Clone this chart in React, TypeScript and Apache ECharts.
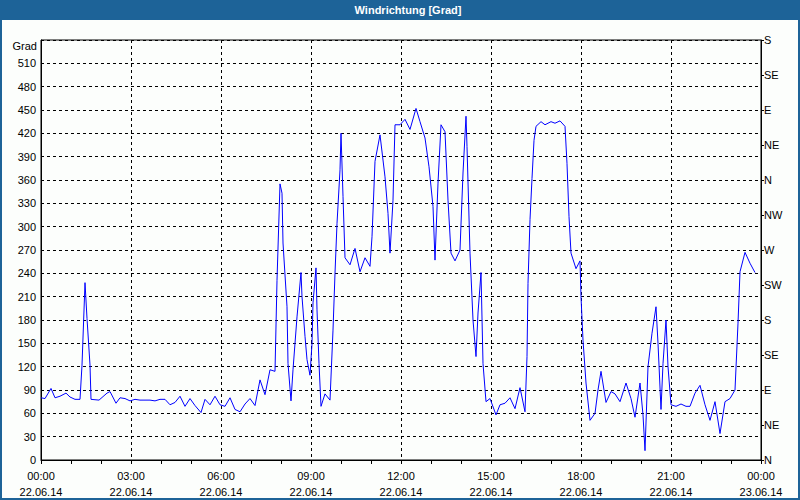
import React, { useEffect, useRef } from "react";
import * as echarts from "echarts";

// minutes since 22.06.14 00:00
const times = [
  0, 8, 20, 28, 38, 50, 58, 68, 78, 82, 88, 92, 98, 100, 116, 132, 138, 150, 158, 168,
  178, 188, 198, 208, 218, 228, 238, 248, 258, 268, 278, 288, 298, 308, 320, 328, 338, 348, 358, 368,
  378, 388, 398, 408, 418, 428, 438, 448, 458, 468, 472, 478, 482, 484, 492, 494, 500, 504, 512, 520,
  522, 528, 532, 538, 542, 544, 550, 552, 556, 560, 568, 578, 584, 588, 592, 598, 600, 604, 608, 618,
  628, 638, 648, 658, 662, 668, 678, 688, 694, 698, 704, 708, 718, 728, 738, 750, 758, 768, 776, 784,
  788, 794, 800, 808, 814, 820, 828, 838, 844, 850, 852, 858, 864, 870, 874, 880, 884, 890, 898, 910,
  918, 928, 938, 948, 958, 968, 972, 974, 978, 982, 986, 990, 1000, 1008, 1020, 1028, 1038, 1048, 1052, 1056,
  1060, 1070, 1078, 1080, 1084, 1090, 1098, 1108, 1114, 1120, 1130, 1140, 1148, 1158, 1170, 1180, 1188, 1198, 1204, 1208,
  1214, 1222, 1230, 1234, 1240, 1244, 1250, 1254, 1260, 1270, 1280, 1290, 1298, 1308, 1318, 1328, 1338, 1348, 1358, 1368,
  1378, 1388, 1394, 1398, 1408, 1418, 1428,
];

// wind direction in degrees
const values = [
  80, 79, 92, 80, 82, 86, 81, 78, 78, 122, 228, 182, 122, 78, 77, 86, 88, 73, 80, 79,
  76, 78, 77, 77, 77, 76, 78, 78, 71, 74, 82, 69, 79, 70, 61, 78, 71, 82, 71, 69,
  80, 65, 62, 72, 79, 70, 103, 84, 116, 114, 231, 355, 343, 279, 197, 124, 76, 116, 184, 241,
  210, 159, 129, 109, 150, 202, 247, 193, 124, 69, 85, 77, 167, 240, 304, 373, 420, 339, 260, 251,
  272, 242, 260, 249, 287, 384, 418, 364, 317, 266, 334, 431, 431, 438, 425, 452, 435, 414, 377, 326,
  257, 356, 431, 422, 334, 266, 256, 270, 369, 442, 403, 266, 180, 133, 189, 241, 124, 75, 79, 58,
  71, 73, 80, 66, 93, 62, 133, 227, 309, 362, 411, 429, 435, 431, 435, 433, 436, 429, 381, 313,
  266, 246, 256, 210, 154, 99, 51, 60, 90, 114, 74, 88, 85, 75, 99, 79, 55, 99, 58, 12,
  120, 163, 197, 150, 65, 124, 180, 120, 71, 69, 72, 69, 69, 86, 96, 71, 51, 75, 34, 75,
  79, 90, 176, 242, 267, 253, 241,
];

const dirLabels = ["N", "NE", "E", "SE", "S", "SW", "W", "NW", "N", "NE", "E", "SE", "S"];
const dateLabels = ["22.06.14", "23.06.14"];

const FONT = "'Liberation Sans', Arial, sans-serif";

export default function App() {
  const ref = useRef<HTMLDivElement>(null);

  useEffect(() => {
    if (!ref.current) return;
    const chart = echarts.init(ref.current, undefined, { renderer: "svg" });
    const data = times.map((t, i) => [t, values[i]]);
    const pad = (n: number) => (n < 10 ? "0" + n : String(n));

    chart.setOption({
      animation: false,
      backgroundColor: "#fcfefc",
      textStyle: { fontFamily: FONT },
      grid: {
        left: 41,
        right: 39,
        top: 40,
        bottom: 40,
        containLabel: false,
        outerBoundsMode: "none",
        show: true,
        borderColor: "#000",
        borderWidth: 1,
        backgroundColor: "transparent",
      },
      graphic: [
        { type: "rect", shape: { x: 0, y: 0, width: 800, height: 20 }, style: { fill: "#1d6398" }, silent: true },
        {
          type: "rect",
          shape: { x: 1, y: 1, width: 798, height: 498 },
          style: { fill: "none", stroke: "#1d6398", lineWidth: 2 },
          silent: true,
        },
        {
          type: "text",
          x: 408,
          y: 10,
          style: {
            text: "Windrichtung [Grad]",
            fill: "#ffffff",
            font: `bold 11px ${FONT}`,
            align: "center",
            verticalAlign: "middle",
          },
          silent: true,
        },
        {
          type: "text",
          x: 37,
          y: 46,
          style: {
            text: "Grad",
            fill: "#000",
            font: `11px ${FONT}`,
            align: "right",
            verticalAlign: "middle",
          },
          silent: true,
        },
      ],
      xAxis: {
        type: "value",
        min: 0,
        max: 1440,
        interval: 180,
        axisLine: { show: true, onZero: false, lineStyle: { color: "#000", width: 1 } },
        axisTick: { show: true, length: 4, lineStyle: { color: "#000" } },
        minorTick: { show: true, splitNumber: 3, length: 4, lineStyle: { color: "#000" } },
        splitLine: { show: true, lineStyle: { color: "#000", type: [3, 3], width: 1 } },
        axisLabel: {
          show: true,
          showMinLabel: true,
          showMaxLabel: true,
          hideOverlap: false,
          color: "#000",
          fontSize: 11,
          fontFamily: FONT,
          lineHeight: 16,
          margin: 8,
          formatter: (v: number) => {
            const h = Math.floor(v / 60) % 24;
            const d = v >= 1440 ? dateLabels[1] : dateLabels[0];
            return `${pad(h)}:00\n${d}`;
          },
        },
      },
      yAxis: [
        {
          type: "value",
          min: 0,
          max: 540,
          interval: 30,
          axisLine: { show: true, lineStyle: { color: "#000", width: 1 } },
          axisTick: { show: false },
          splitLine: { show: true, lineStyle: { color: "#000", type: [3, 3], width: 1 } },
          axisLabel: {
            color: "#000",
            fontSize: 11,
            fontFamily: FONT,
            margin: 5,
            showMaxLabel: true,
            formatter: (v: number) => (v >= 540 ? "" : String(v)),
          },
        },
        {
          type: "value",
          position: "right",
          min: 0,
          max: 540,
          interval: 45,
          axisLine: { show: true, lineStyle: { color: "#000", width: 1 } },
          axisTick: { show: true, length: 3, lineStyle: { color: "#000" } },
          splitLine: { show: false },
          axisLabel: {
            color: "#000",
            fontSize: 11,
            fontFamily: FONT,
            margin: 3,
            showMinLabel: true,
            showMaxLabel: true,
            formatter: (v: number) => dirLabels[Math.round(v / 45)] ?? "",
          },
        },
      ],
      series: [
        {
          type: "line",
          data,
          yAxisIndex: 0,
          showSymbol: false,
          symbol: "none",
          lineStyle: { color: "#0000ff", width: 1 },
          silent: true,
        },
      ],
    });

    return () => chart.dispose();
  }, []);

  return (
    <div
      ref={ref}
      style={{ position: "fixed", left: 0, top: 0, width: 800, height: 500 }}
    />
  );
}
